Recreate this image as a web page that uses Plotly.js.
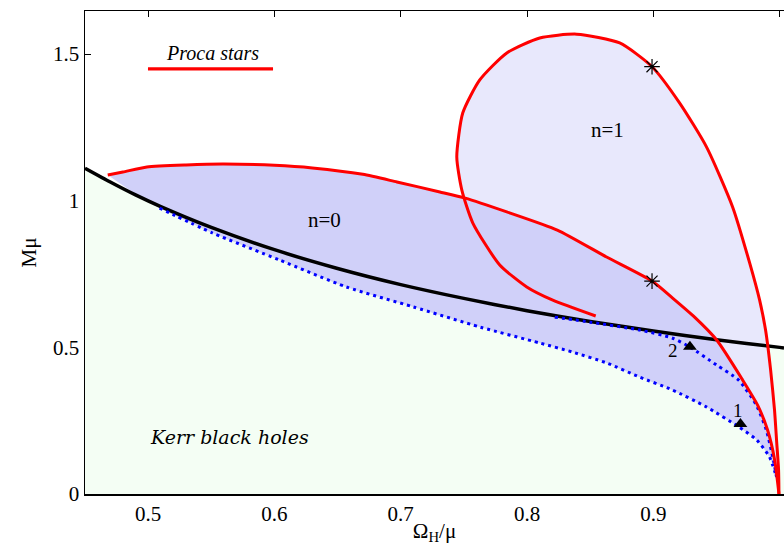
<!DOCTYPE html>
<html>
<head>
<meta charset="utf-8">
<script src="https://cdn.plot.ly/plotly-3.0.1.min.js"></script>
<style>html,body{margin:0;padding:0;background:#fff;}#plot{width:784px;height:545px;}</style>
</head>
<body>
<div id="plot"></div>
<script>
// Extremal Kerr line (black)
const kerrOmega = [0.45, 0.47, 0.49, 0.51, 0.55, 0.60, 0.65, 0.70, 0.75, 0.80, 0.85, 0.90, 0.95, 1.00, 1.0035];
const kerrM     = [1.111, 1.064, 1.020, 0.980, 0.909, 0.833, 0.769, 0.714, 0.667, 0.625, 0.588, 0.556, 0.526, 0.500, 0.498];

// Proca stars, n=0 (red)
const ps0Omega = [0.468, 0.480, 0.499, 0.530, 0.559, 0.600, 0.630, 0.670, 0.697, 0.731, 0.751, 0.784, 0.824, 0.863, 0.899, 0.9153, 0.9327, 0.9502, 0.9707, 0.9826, 0.9905, 0.9961, 0.9995];
const ps0M     = [1.088, 1.098, 1.115, 1.122, 1.125, 1.121, 1.112, 1.090, 1.064, 1.030, 1.009, 0.962, 0.900, 0.808, 0.726, 0.668, 0.603, 0.525, 0.389, 0.303, 0.218, 0.116, 0.0];

// Proca stars, n=1 (red loop)
const ps1Omega = [0.9995, 0.9992, 0.9976, 0.996, 0.9929, 0.9889, 0.9842, 0.9763, 0.9628, 0.9422, 0.9209, 0.899, 0.8734, 0.8394, 0.8101, 0.7840, 0.7626, 0.7491, 0.7444, 0.7484, 0.7571, 0.7784, 0.7998, 0.8204, 0.8544];
const ps1M     = [0.0, 0.082, 0.184, 0.286, 0.423, 0.559, 0.661, 0.788, 0.979, 1.183, 1.333, 1.457, 1.538, 1.568, 1.555, 1.504, 1.412, 1.299, 1.149, 1.036, 0.924, 0.781, 0.706, 0.661, 0.607];

// Existence line 1 (blue dotted, lower)
const ex1Omega = [0.509, 0.551, 0.604, 0.657, 0.710, 0.763, 0.810, 0.836, 0.863, 0.889, 0.915, 0.942, 0.968, 0.982, 0.992, 0.9976];
const ex1M     = [0.975, 0.890, 0.798, 0.706, 0.638, 0.569, 0.515, 0.484, 0.447, 0.399, 0.355, 0.297, 0.228, 0.184, 0.126, 0.058];

// Existence line 2 (blue dotted, upper)
const ex2Omega = [0.822, 0.850, 0.889, 0.915, 0.929, 0.950, 0.9674, 0.9816, 0.9895, 0.9951, 0.9976];
const ex2M     = [0.603, 0.586, 0.559, 0.532, 0.501, 0.440, 0.389, 0.303, 0.218, 0.116, 0.058];

// Marked solutions
const starOmega = [0.899, 0.899];
const starM     = [1.457, 0.726];
const triOmega  = [0.929, 0.969];
const triM      = [0.502, 0.239];
const triLabels = ['2', '1'];
const triLabelOmega = [0.9153, 0.9668];
const triLabelM     = [0.491, 0.286];

// Region labels
const regionText  = ['n=0', 'n=1'];
const regionOmega = [0.640, 0.864];
const regionM     = [0.934, 1.241];

const serif = 'Liberation Serif';
const serif2 = 'DejaVu Serif';

// n=0 domain polygon: PS n=0 curve, back along existence line 1, then extremal line
const n0x = ps0Omega.concat(ex1Omega.slice().reverse()).concat([0.493]);
const n0y = ps0M.concat(ex1M.slice().reverse()).concat([1.014]);
// n=1 domain polygon: PS n=1 curve, then existence line 2
const n1x = ps1Omega.concat(ex2Omega.slice(1));
const n1y = ps1M.concat(ex2M.slice(1));

const noLine = {width: 0, color: 'rgba(0,0,0,0)', shape: 'spline', smoothing: 0.6};

const traces = [
  {x: kerrOmega, y: kerrM, mode: 'lines', fill: 'tozeroy', fillcolor: 'rgb(244,254,244)', line: noLine, hoverinfo: 'skip'},
  {x: n1x, y: n1y, mode: 'lines', fill: 'toself', fillcolor: 'rgb(232,232,252)', line: noLine, hoverinfo: 'skip'},
  {x: n0x, y: n0y, mode: 'lines', fill: 'toself', fillcolor: 'rgb(208,208,249)', line: noLine, hoverinfo: 'skip'},
  {x: kerrOmega, y: kerrM, mode: 'lines', line: {color: '#000000', width: 3.5, shape: 'spline', smoothing: 0.6}},
  {x: ex1Omega, y: ex1M, mode: 'lines', line: {color: '#0000ff', width: 3, dash: '3px,4px', shape: 'spline', smoothing: 0.6}},
  {x: ex2Omega, y: ex2M, mode: 'lines', line: {color: '#0000ff', width: 3, dash: '3px,4px', shape: 'spline', smoothing: 0.6}},
  {x: ps0Omega, y: ps0M, mode: 'lines', line: {color: '#ff0000', width: 3, shape: 'spline', smoothing: 0.6}},
  {x: ps1Omega, y: ps1M, mode: 'lines', line: {color: '#ff0000', width: 3, shape: 'spline', smoothing: 0.6}},
  {x: starOmega, y: starM, mode: 'markers', marker: {symbol: 'asterisk-open', size: 13, color: '#000000', line: {color: '#000000', width: 1.2}}},
  {x: triOmega, y: triM, mode: 'markers', marker: {symbol: 'triangle-up', size: 12, color: '#000000', line: {width: 0}}}
];

const annotations = [
  {xref: 'paper', yref: 'paper', x: 0.1817, y: 0.913, xanchor: 'center', yanchor: 'middle', text: '<i>Proca stars</i>', showarrow: false, font: {family: serif, size: 20, color: '#000'}},
  {xref: 'x', yref: 'y', x: 0.5648, y: 0.194, xanchor: 'center', yanchor: 'middle', text: '<i>Kerr black holes</i>', showarrow: false, font: {family: serif2, size: 19, color: '#000'}}
];
regionText.forEach((t, i) => annotations.push({xref: 'x', yref: 'y', x: regionOmega[i], y: regionM[i], xanchor: 'center', yanchor: 'middle', text: t, showarrow: false, font: {family: 'serif', size: 21, color: '#000'}}));
triLabels.forEach((t, i) => annotations.push({xref: 'x', yref: 'y', x: triLabelOmega[i], y: triLabelM[i], xanchor: 'center', yanchor: 'middle', text: t, showarrow: false, font: {family: serif, size: 19, color: '#000'}}));

const layout = {
  width: 784, height: 545,
  margin: {l: 85, r: 0, t: 11, b: 51, pad: 0},
  paper_bgcolor: '#ffffff', plot_bgcolor: '#ffffff',
  showlegend: false,
  font: {family: serif, size: 20, color: '#000'},
  xaxis: {
    range: [0.45, 1.0035], dtick: 0.1, tick0: 0.5,
    showgrid: false, zeroline: false,
    showline: true, linecolor: '#000', linewidth: 1.5, mirror: 'ticks',
    ticks: 'inside', ticklen: 6, tickcolor: '#000', tickwidth: 1,
    tickfont: {family: serif, size: 21, color: '#000'},
    layer: 'below traces',
    title: {text: 'Ω<sub>H</sub>/μ', font: {family: serif, size: 21, color: '#000'}, standoff: 0}
  },
  yaxis: {
    range: [0, 1.647], dtick: 0.5, tick0: 0,
    showgrid: false, zeroline: false,
    showline: true, linecolor: '#000', linewidth: 1.5, mirror: false,
    ticks: 'inside', ticklen: 6, tickcolor: '#000', tickwidth: 1,
    tickfont: {family: serif, size: 21, color: '#000'},
    layer: 'below traces',
    title: {text: 'Mμ', font: {family: serif, size: 21, color: '#000'}, standoff: 10}
  },
  shapes: [
    {type: 'line', xref: 'paper', yref: 'paper', x0: 0.0901, x1: 0.269, y0: 0.880, y1: 0.880, line: {color: '#ff0000', width: 3.3}}
  ],
  annotations: annotations
};

Plotly.newPlot('plot', traces, layout, {staticPlot: true, displayModeBar: false});
</script>
</body>
</html>
